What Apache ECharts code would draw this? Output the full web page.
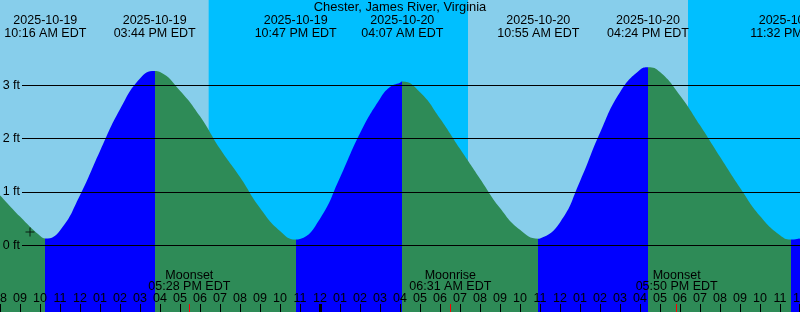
<!DOCTYPE html>
<html><head><meta charset="utf-8">
<script src="https://cdn.jsdelivr.net/npm/echarts@6/dist/echarts.min.js"></script>
<style>html,body{margin:0;padding:0;background:#87CEEB}#c{width:800px;height:312px}</style>
</head><body><div id="c"></div>
<script>
// ---- data (hours counted from 2025-10-19 00:00 EDT) ----
const chartTitle = 'Chester, James River, Virginia';
const tideHours = [8,9,10,10.267,11,12,13,14,15,15.733,16,17,18,19,20,21,22,22.783,23,24,25,26,27,27.5,28,28.117,29,30,31,32,33,34,34.917,35,36,37,38,39,40,40.4,41,42,43,44,45,46,47,47.533,48];
const tideFeet  = [0.94,0.54,0.18,0.13,0.28,0.94,1.77,2.55,3.13,3.27,3.25,2.9,2.42,1.81,1.28,0.7,0.27,0.11,0.12,0.5,1.27,2.1,2.75,2.97,3.05,3.07,2.87,2.38,1.81,1.25,0.7,0.29,0.125,0.13,0.43,1.2,2.11,2.87,3.29,3.34,3.25,2.81,2.25,1.66,1.08,0.55,0.19,0.11,0.13];
const eventHours = [10.267,15.733,22.783,28.117,34.917,40.4,47.533];
const eventDates = ['2025-10-19','2025-10-19','2025-10-19','2025-10-20','2025-10-20','2025-10-20','2025-10-20'];
const eventTimes = ['10:16 AM EDT','03:44 PM EDT','10:47 PM EDT','04:07 AM EDT','10:55 AM EDT','04:24 PM EDT','11:32 PM EDT'];
const moonHours = [17.467,30.517,41.833];
const moonNames = ['Moonset','Moonrise','Moonset'];
const moonTimes = ['05:28 PM EDT','06:31 AM EDT','05:50 PM EDT'];
const nightStarts = [18.433,42.4];
const nightEnds = [31.4,48];
const dayBoundaryHours = [24,48];
const hourLabels = ['08','09','10','11','12',
  '01','02','03','04','05','06','07','08','09','10','11','12',
  '01','02','03','04','05','06','07','08','09','10','11','12',
  '01','02','03','04','05','06','07','08','09','10','11','12'];
const yTickValues = [0,1,2,3];
const yTickLabels = ['0 ft','1 ft','2 ft','3 ft'];
const nowHour = [9.5];
const nowFeet = [0.25];

// ---- styling ----
const FONT = 'Liberation Sans';
const FS = 12.5;
const DAY = '#87CEEB', NIGHT = '#00BFFF', RISE = '#0000FF', FALL = '#2E8B57';
const X0 = 8, X1 = 48;

const edges = [X0].concat(eventHours).concat([X1]);
const pieces = [];
let rising = false;
for (let i = 0; i < edges.length - 1; i++) {
  const p = {gte: edges[i], color: rising ? RISE : FALL};
  if (i === edges.length - 2) p.lte = edges[i + 1]; else p.lt = edges[i + 1];
  pieces.push(p);
  rising = !rising;
}

const txt = {color: '#000', fontFamily: FONT, fontSize: FS};
const baseX = {type: 'value', min: X0, max: X1, gridIndex: 0, splitLine: {show: false},
  axisLine: {show: false, onZero: false}, z: 10};

const chart = echarts.init(document.getElementById('c'), null, {renderer: 'canvas'});
chart.setOption({
  backgroundColor: DAY,
  animation: false,
  title: {text: chartTitle, left: 'center', top: 1, padding: 0,
    textStyle: Object.assign({fontWeight: 'normal'}, txt, {fontSize: 12.9})},
  grid: [
    {left: 0, right: 0, top: 0, bottom: 0, outerBoundsMode: 'none', containLabel: false},
    {left: 22, right: 0, top: 85.333, bottom: 66.667, outerBoundsMode: 'none', containLabel: false}
  ],
  xAxis: [
    Object.assign({}, baseX, {position: 'bottom',
      interval: 1,
      axisTick: {show: true, inside: true, length: 8, lineStyle: {color: '#000', width: 1}},
      axisLabel: Object.assign({inside: true, margin: 7, showMinLabel: true, showMaxLabel: true, hideOverlap: false,
        formatter: v => hourLabels[Math.round(v - X0)]}, txt)}),
    Object.assign({}, baseX, {position: 'top',
      axisTick: {show: false},
      axisLabel: Object.assign({inside: true, margin: 14, lineHeight: 13, hideOverlap: false,
        customValues: eventHours,
        formatter: v => { const i = eventHours.indexOf(v); return eventDates[i] + '\n' + eventTimes[i]; }}, txt)}),
    Object.assign({}, baseX, {position: 'bottom',
      axisTick: {show: true, inside: true, length: 8, customValues: moonHours, lineStyle: {color: '#FF0000', width: 1}},
      axisLabel: Object.assign({inside: true, margin: 19.5, lineHeight: 11.5, hideOverlap: false,
        customValues: moonHours,
        formatter: v => { const i = moonHours.indexOf(v); return moonNames[i] + '\n' + moonTimes[i]; }}, txt)}),
    Object.assign({}, baseX, {position: 'bottom',
      axisTick: {show: true, inside: true, length: 8, customValues: dayBoundaryHours, lineStyle: {color: '#000', width: 3}},
      axisLabel: {show: false}}),
    {type: 'value', gridIndex: 1, min: X0, max: X1, show: false}
  ],
  yAxis: [
    {type: 'value', gridIndex: 0, min: -1.25, max: 4.6, show: false},
    {type: 'value', gridIndex: 1, min: 0, max: 3, interval: 1, z: 10,
      axisLine: {show: false}, axisTick: {show: false},
      axisLabel: Object.assign({margin: 2, formatter: v => yTickLabels[yTickValues.indexOf(v)]}, txt),
      splitLine: {show: true, lineStyle: {color: '#000', width: 1, type: 'solid'}}}
  ],
  visualMap: {type: 'piecewise', show: false, dimension: 0, seriesIndex: 1, pieces: pieces},
  series: [
    {type: 'line', xAxisIndex: 0, yAxisIndex: 0, data: [], z: 1, silent: true,
      markArea: {silent: true, itemStyle: {color: NIGHT, opacity: 1},
        data: nightStarts.map((s, i) => [{xAxis: s}, {xAxis: nightEnds[i]}])}},
    {type: 'line', xAxisIndex: 0, yAxisIndex: 0, z: 3, silent: true,
      data: tideHours.map((h, i) => [h, tideFeet[i]]),
      smooth: 0.5, showSymbol: false, symbol: 'none',
      lineStyle: {width: 0},
      areaStyle: {opacity: 1, origin: 'start'}},
    {type: 'scatter', xAxisIndex: 0, yAxisIndex: 0, z: 6, silent: true,
      data: nowHour.map((h, i) => [h, nowFeet[i]]),
      symbol: 'path://M0,4H9V5H0Z M4,0H5V9H4Z', symbolSize: 9,
      itemStyle: {color: '#000'}}
  ]
});
</script></body></html>
